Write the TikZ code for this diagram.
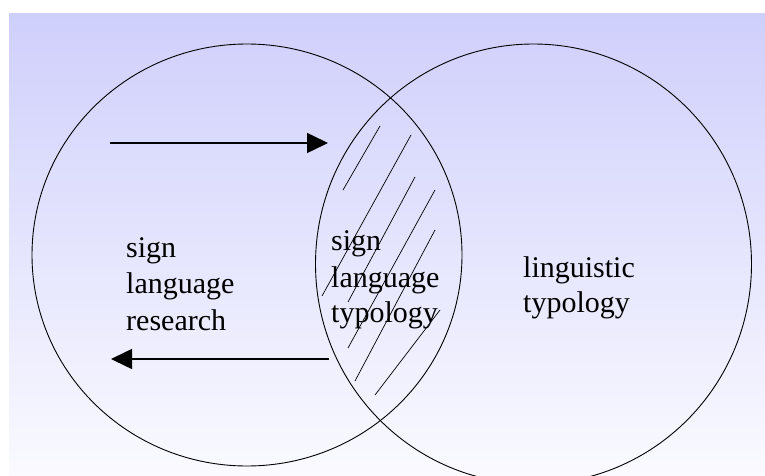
\documentclass[tikz,border=0pt]{standalone}
\usepackage{fontspec}
\setmainfont{Liberation Serif}
\usetikzlibrary{arrows.meta}
\definecolor{bgtop}{RGB}{207,207,252}
\definecolor{bgbot}{RGB}{250,250,255}
\begin{document}
\begin{tikzpicture}[x=1pt,y=-1pt,
  ring/.style={draw=black,line width=0.9pt},
  hatch/.style={draw=black,line width=0.7pt},
  flow/.style={draw=black,line width=1.5pt,-{Triangle[length=21pt,width=20pt]}},
  lbl/.style={anchor=base west,inner sep=0pt,font=\fontsize{30}{36}\selectfont}]
\useasboundingbox (0,0) rectangle (765,476);
\fill[white] (0,0) rectangle (765,476);
\shade[top color=bgtop,bottom color=bgbot] (9,14) rectangle (765,476);
% circles
\draw[ring] (247,255) ellipse [x radius=215, y radius=211];
\draw[ring] (533.5,264) ellipse [x radius=218, y radius=220];
% hatching in the overlap
\draw[hatch] (343,190) -- (380,126);
\draw[hatch] (322,296) -- (411,135);
\draw[hatch] (348,302) -- (415,177);
\draw[hatch] (348,348) -- (435,190);
\draw[hatch] (355,381) -- (435,230);
\draw[hatch] (375,395) -- (440,310);
% arrows
\coordinate (ta) at (110,143);
\coordinate (tb) at (328,143);
\coordinate (ba) at (329,359);
\coordinate (bb) at (111,359);
\draw[flow] (ta) -- (tb);
\draw[flow] (ba) -- (bb);
% labels
\node[lbl] (l1) at (126,257) {sign};
\node[lbl] (l2) at (126,293) {language};
\node[lbl] (l3) at (126,330) {research};
\node[lbl] (m1) at (331,250) {sign};
\node[lbl] (m2) at (331,287) {language};
\node[lbl] (m3) at (331,322) {typology};
\node[lbl] (r1) at (523,277) {linguistic};
\node[lbl] (r2) at (523,312) {typology};
\end{tikzpicture}
\end{document}
